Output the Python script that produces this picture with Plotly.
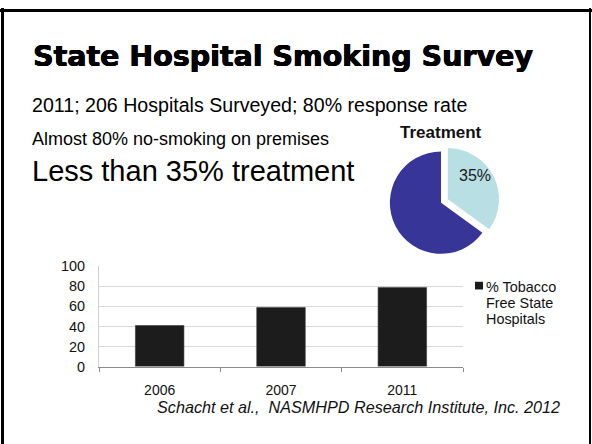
import plotly.graph_objects as go

# Survey data
years = ["2006", "2007", "2011"]
tobacco_free_pct = [41, 59, 79]
series_name = "% Tobacco Free State Hospitals"

treatment_labels = ["Treatment", "No treatment"]
treatment_values = [35, 65]

y_ticks = [0, 20, 40, 60, 80, 100]

W, H = 592, 444


def px(x):
    return x / W


def py(y):
    return 1 - y / H


FONT = "Liberation Sans, Arial, sans-serif"

fig = go.Figure()

fig.add_trace(go.Bar(
    x=years,
    y=tobacco_free_pct,
    name=series_name,
    marker=dict(color="#1c1c1c", line=dict(color="#3a3a3a", width=0.6)),
    showlegend=False,
    xaxis="x", yaxis="y",
    hoverinfo="x+y",
))

fig.add_trace(go.Pie(
    labels=treatment_labels,
    values=treatment_values,
    textinfo="none",
    sort=False,
    direction="clockwise",
    rotation=0,
    pull=[0.15, 0],
    marker=dict(colors=["#b8dfe4", "#373598"], line=dict(color="white", width=0)),
    domain=dict(x=[px(380), px(502)], y=[py(263), py(141)]),
    showlegend=False,
))

fig.update_layout(
    width=W, height=H,
    margin=dict(l=0, r=0, t=0, b=0),
    paper_bgcolor="white",
    plot_bgcolor="white",
    bargap=0.6,
    xaxis=dict(
        domain=[px(99), px(463)],
        anchor="y",
        showgrid=False,
        showline=True, linecolor="#8c8c8c", linewidth=1,
        ticks="outside", ticklen=4, tickcolor="#8c8c8c", tickwidth=1,
        tickson="boundaries",
        tickfont=dict(family=FONT, size=14, color="#111"),
        ticklabelstandoff=11,
        fixedrange=True,
    ),
    yaxis=dict(
        domain=[py(372), py(268)],
        anchor="x",
        range=[0, 100],
        tickvals=y_ticks,
        showgrid=True, gridcolor="#d9d9d9", gridwidth=1,
        showline=True, linecolor="#d0d0d0", linewidth=1,
        zeroline=False,
        ticks="",
        tickfont=dict(family=FONT, size=14.4, color="#111"),
        ticklabelstandoff=10,
        fixedrange=True,
    ),
)

annotations = [
    dict(text="<b>State Hospital Smoking Survey</b>", x=px(31), y=py(50),
         font=dict(family="DejaVu Sans, sans-serif", size=28.5, color="black",
                   shadow="0.6px 0 0 #000, -0.3px 0 0 #000, 0 0.4px 0 #000")),
    dict(text="2011; 206 Hospitals Surveyed; 80% response rate", x=px(30), y=py(101),
         font=dict(family=FONT, size=19.6, color="black")),
    dict(text="Almost 80% no-smoking on premises", x=px(30), y=py(136),
         font=dict(family=FONT, size=18, color="black")),
    dict(text="Less than 35% treatment", x=px(30), y=py(169),
         font=dict(family=FONT, size=29, color="black")),
    dict(text="<i>Schacht et al.,\u00a0 NASMHPD Research Institute, Inc. 2012</i>",
         x=px(155), y=py(414),
         font=dict(family=FONT, size=16.2, color="#111")),
]
for a in annotations:
    a.update(xref="paper", yref="paper", xanchor="left", yanchor="middle",
             showarrow=False)
    fig.add_annotation(**a)

# Pie heading and slice label
fig.add_annotation(text="<b>Treatment</b>", xref="paper", yref="paper",
                   x=px(441), y=py(129), xanchor="center", yanchor="middle",
                   showarrow=False,
                   font=dict(family=FONT, size=17, color="#111"))
fig.add_annotation(text=f"{treatment_values[0]}%", xref="paper", yref="paper",
                   x=px(475), y=py(174), xanchor="center", yanchor="middle",
                   showarrow=False,
                   font=dict(family=FONT, size=16, color="#1a1a1a"))

# Bar legend: key swatch and wrapped label
fig.add_shape(type="rect", xref="paper", yref="paper",
              x0=px(475), x1=px(483), y0=py(292), y1=py(284),
              fillcolor="#1c1c1c", line=dict(width=0))
for i, line in enumerate(["% Tobacco", "Free State", "Hospitals"]):
    fig.add_annotation(text=line, xref="paper", yref="paper",
                       x=px(484), y=py(289 + 17 * i), xanchor="left",
                       yanchor="middle", showarrow=False,
                       font=dict(family=FONT, size=14.4, color="#111"))

# Slide frame
frame = [
    dict(x0=px(2.5), x1=px(2.5), y0=py(0), y1=py(460), w=3),
    dict(x0=px(0), x1=px(592), y0=py(2.5), y1=py(2.5), w=3),
    dict(x0=px(590), x1=px(590), y0=py(0), y1=py(460), w=2),
]
for f in frame:
    fig.add_shape(type="line", xref="paper", yref="paper",
                  x0=f["x0"], x1=f["x1"], y0=f["y0"], y1=f["y1"],
                  line=dict(color="black", width=f["w"]))

fig.write_html("out.html")
